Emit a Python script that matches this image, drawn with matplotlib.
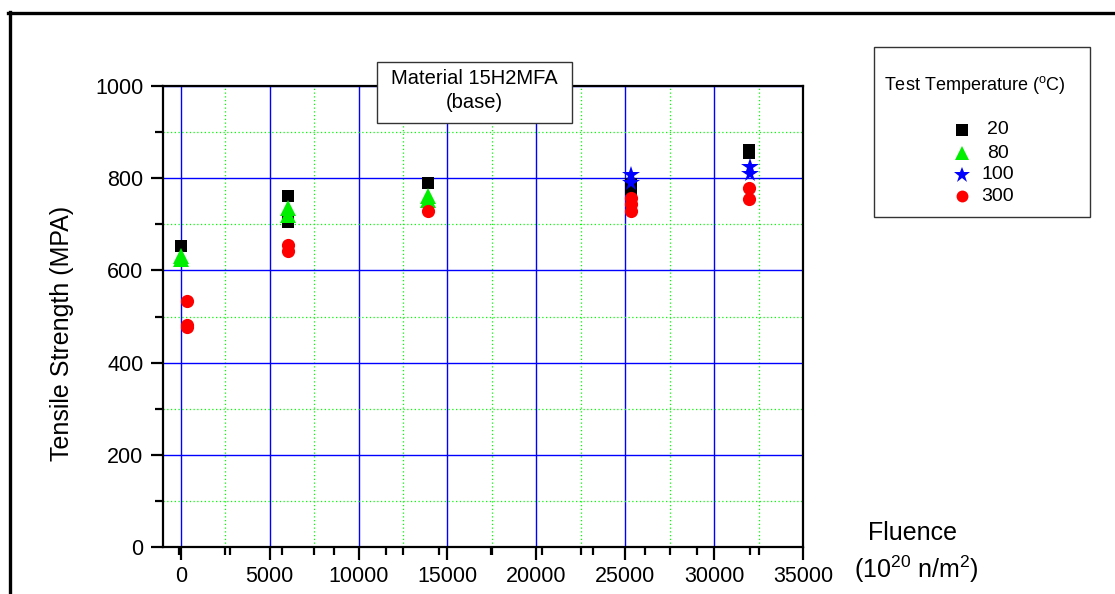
import matplotlib
matplotlib.use("Agg")
import matplotlib.pyplot as plt
from matplotlib.lines import Line2D
from matplotlib.patches import Rectangle
from matplotlib.ticker import FixedLocator, MultipleLocator

plt.rcParams["font.family"] = ["Liberation Sans", "DejaVu Sans"]
plt.rcParams["mathtext.fontset"] = "custom"
plt.rcParams["mathtext.rm"] = "Liberation Sans"
plt.rcParams["mathtext.default"] = "regular"

# tensile strength (MPa) vs fluence (1e20 n/m^2), per test temperature
temps = ["20", "80", "100", "300"]

fluence_20 = [0, 6050, 6050, 13900, 25300, 25300, 31950, 31950]
strength_20 = [653, 762, 706, 789, 787, 776, 862, 854]

fluence_80 = [0, 0, 6050, 6050, 13900, 13900]
strength_80 = [632, 625, 735, 720, 762, 753]

fluence_100 = [25300, 25300, 32000, 32000]
strength_100 = [807, 789, 825, 810]

fluence_300 = [330, 330, 330, 6050, 6050, 13900, 25300, 25300, 25300, 31950, 31950]
strength_300 = [533, 482, 478, 655, 641, 729, 758, 744, 729, 779, 755]

series = [
    (fluence_20, strength_20, "s", "black", 9),
    (fluence_80, strength_80, "^", "#00ee00", 11),
    (fluence_100, strength_100, "*", "blue", 13),
    (fluence_300, strength_300, "o", "red", 9.5),
]

# second (odd) tick set along the fluence axis
extra_x_ticks = [-100, 2780, 5720, 8620, 11550, 14500, 17450, 20300,
                 23200, 26120, 29030, 32000]
minor_x = [2500, 7500, 12500, 17500, 22500, 27500, 32500]

W, H = 1115, 594


def fx(px):
    return px / W


def fy(py):
    return 1 - py / H


fig = plt.figure(figsize=(W / 100, H / 100), dpi=100)
ax = fig.add_axes([fx(163), fy(547), fx(803) - fx(163), fy(86) - fy(547)])

for xs, ys, mk, col, ms in series:
    ax.plot(xs, ys, linestyle="none", marker=mk, color=col, markersize=ms,
            markeredgewidth=0, zorder=3, clip_on=False)

ax.set_xlim(-1000, 35000)
ax.set_ylim(0, 1000)
ax.xaxis.set_major_locator(MultipleLocator(5000))
ax.yaxis.set_major_locator(MultipleLocator(200))
ax.xaxis.set_minor_locator(FixedLocator(sorted(minor_x + extra_x_ticks)))
ax.yaxis.set_minor_locator(MultipleLocator(100))

ax.set_axisbelow(True)
ax.grid(which="major", color="blue", linewidth=1.0, linestyle="-")
ax.yaxis.grid(True, which="minor", color="#00ff00", linewidth=0.9,
              linestyle=(0, (1, 2)))
for v in minor_x:
    ax.axvline(v, color="#00ff00", linewidth=0.9, linestyle=(0, (1, 2)), zorder=0.5)

for sp in ax.spines.values():
    sp.set_linewidth(1.6)
ax.tick_params(which="both", direction="out", top=False, right=False,
               width=1.6, labelsize=15.5, pad=5)
ax.tick_params(which="major", length=9)
ax.tick_params(which="minor", length=6)

# axis titles
fig.text(fx(62), fy(333), "Tensile Strength (MPA)", rotation=90,
         ha="center", va="center", fontsize=18)
fig.text(fx(912), fy(533), "Fluence", ha="center", va="center", fontsize=18)
fig.text(fx(916), fy(569), r"(10$^{20}$ n/m$^{2}$)", ha="center", va="center",
         fontsize=18)

# material box over the top spine
fig.add_artist(Rectangle((fx(377), fy(123)), fx(572) - fx(377), fy(62) - fy(123),
                         transform=fig.transFigure, facecolor="white",
                         edgecolor="#333333", linewidth=1.0, zorder=5))
fig.text(fx(474.5), fy(79), "Material 15H2MFA", ha="center", va="center",
         fontsize=14.5, zorder=6)
fig.text(fx(474.5), fy(103), "(base)", ha="center", va="center",
         fontsize=14.5, zorder=6)

# legend box
fig.add_artist(Rectangle((fx(874), fy(217)), fx(1090) - fx(874), fy(47) - fy(217),
                         transform=fig.transFigure, facecolor="white",
                         edgecolor="#333333", linewidth=1.0, zorder=5))
fig.text(fx(884), fy(85), "Test Temperature ($^{o}$C)", ha="left", va="center",
         fontsize=13, zorder=6)
row_y = [130, 153, 175, 196]
for (xs, ys, mk, col, ms), lab, ry in zip(series, temps, row_y):
    fig.add_artist(Line2D([fx(962)], [fy(ry)], transform=fig.transFigure,
                          marker=mk, color=col, markersize=ms * 0.9,
                          markeredgewidth=0, linestyle="none", zorder=6))
    fig.text(fx(998), fy(ry), lab, ha="center", va="center", fontsize=14,
             zorder=6)

# page frame (top and left edges)
fig.add_artist(Line2D([fx(8), 1.0], [fy(12.5), fy(12.5)],
                      transform=fig.transFigure, color="black", linewidth=2.4))
fig.add_artist(Line2D([fx(9.5), fx(9.5)], [fy(12), 0.0],
                      transform=fig.transFigure, color="black", linewidth=2.4))

fig.savefig("out.png", dpi=100)
